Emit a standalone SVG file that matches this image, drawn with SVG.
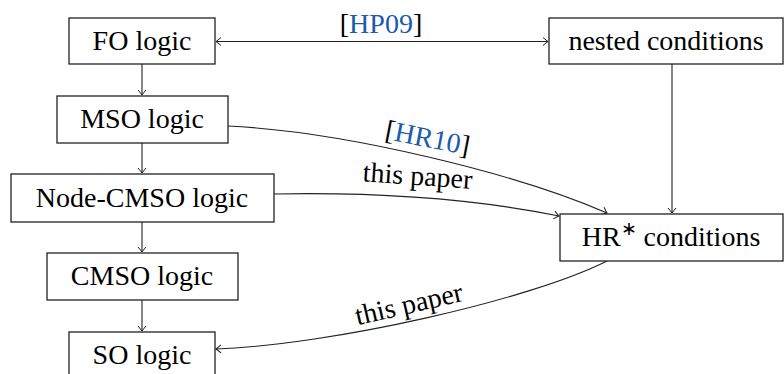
<svg xmlns="http://www.w3.org/2000/svg" width="784" height="374" viewBox="0 0 784 374">
<defs>
<marker id="arr" viewBox="-6 -5 8 10" markerWidth="8" markerHeight="10" refX="0" refY="0" orient="auto-start-reverse" markerUnits="userSpaceOnUse">
<path d="M -5,-4 Q -1.5,-1 0,0 Q -1.5,1 -5,4" fill="none" stroke="#222" stroke-width="1"/>
</marker>
</defs>
<style>
.box{fill:#fff;stroke:#222;stroke-width:1.3}
.t{font-family:'Liberation Serif','Times New Roman',Times,serif;font-size:28px;fill:#000}
.c{fill:#1a5ab0}
.e{fill:none;stroke:#222;stroke-width:1.1}
</style>
<rect width="784" height="374" fill="#fff"/>
<g id="connectors">
<path class="e" d="M 216,41.5 L 548,41.5" marker-start="url(#arr)" marker-end="url(#arr)"/>
<path class="e" d="M 142,64 L 142,95" marker-end="url(#arr)"/>
<path class="e" d="M 142,143 L 142,173" marker-end="url(#arr)"/>
<path class="e" d="M 142,222 L 142,252" marker-end="url(#arr)"/>
<path class="e" d="M 142,300 L 142,331" marker-end="url(#arr)"/>
<path class="e" d="M 672,64 L 672,213" marker-end="url(#arr)"/>
<path class="e" d="M 228,126 C 350,132 520,175 607,213" marker-end="url(#arr)"/>
<path class="e" d="M 274,194 C 380,192 480,200 559,216" marker-end="url(#arr)"/>
<path class="e" d="M 607,261 C 530,300 330,345 216,349" marker-end="url(#arr)"/>
<text class="t" x="381" y="33" text-anchor="middle">[<tspan class="c">HP09</tspan>]</text>
<text class="t" x="0" y="0" text-anchor="middle" transform="translate(426,147) rotate(11)">[<tspan class="c">HR10</tspan>]</text>
<text class="t" x="0" y="0" text-anchor="middle" transform="translate(417,185) rotate(4)">this paper</text>
<text class="t" x="0" y="0" text-anchor="middle" transform="translate(411,313) rotate(-13)">this paper</text>
</g>
<g id="fo"><rect class="box" x="69" y="18" width="146" height="46"/><text class="t" x="142" y="50" text-anchor="middle">FO logic</text></g>
<g id="mso"><rect class="box" x="57" y="96" width="171" height="47"/><text class="t" x="142" y="128" text-anchor="middle">MSO logic</text></g>
<g id="nodecmso"><rect class="box" x="11" y="174" width="263" height="48"/><text class="t" x="142" y="207" text-anchor="middle">Node-CMSO logic</text></g>
<g id="cmso"><rect class="box" x="47" y="253" width="191" height="47"/><text class="t" x="142" y="285" text-anchor="middle">CMSO logic</text></g>
<g id="so"><rect class="box" x="69" y="332" width="146" height="47"/><text class="t" x="142" y="364" text-anchor="middle">SO logic</text></g>
<g id="nested"><rect class="box" x="549" y="18" width="234" height="46"/><text class="t" x="666" y="50" text-anchor="middle">nested conditions</text></g>
<g id="hr"><rect class="box" x="560" y="214" width="223" height="47"/><text class="t" x="671" y="246" text-anchor="middle">HR<tspan font-size="19" dy="-11">∗</tspan><tspan dy="11"> conditions</tspan></text></g>
</svg>
